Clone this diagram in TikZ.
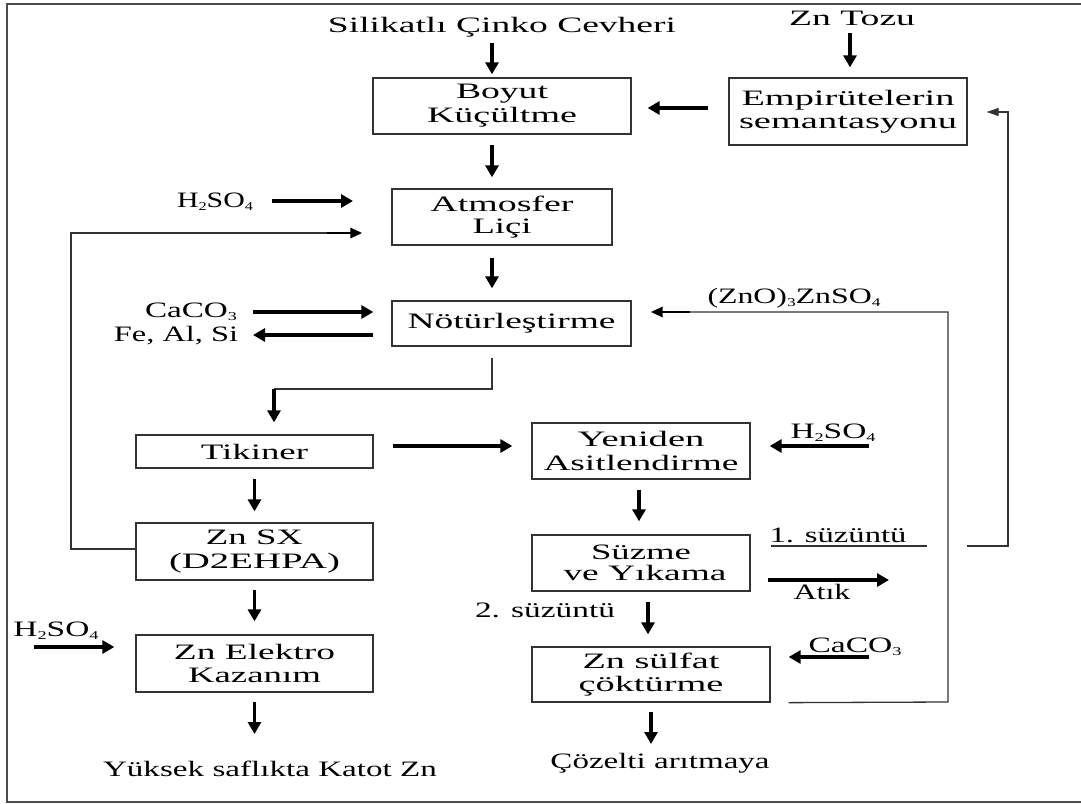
\documentclass[tikz,border=0pt]{standalone}
\usepackage{graphicx}
\usepackage{fontspec}
\setmainfont{Liberation Serif}
\usetikzlibrary{arrows.meta,calc}
\newcommand\fw[2]{\resizebox{#1pt}{\height}{#2}}
\newcommand\sbs[1]{\raisebox{-0.3ex}{\fontsize{12}{12}\selectfont #1}}
\newcommand\bxf[1]{\fontsize{22}{#1}\selectfont}
\begin{document}
\begin{tikzpicture}[x=1pt,y=-1pt,
  box/.style={draw=black!80,line width=1.3pt,align=center,inner sep=0pt},
  lbl/.style={inner sep=0pt,font=\bxf{24},anchor=base},
  flow/.style={line width=3.4pt,-{Triangle[length=12pt,width=13pt]}},
  thinln/.style={line width=1.3pt,draw=black!80},
  medarr/.style={line width=2.8pt,-{Triangle[length=12pt,width=10pt]}},
]
\useasboundingbox (0,0) rectangle (1081,803);
% frame
\draw[line width=1.3pt,black!70] (1081,4) -- (7,4) -- (7,802) -- (1081,802);

% boxes
\node[box,font=\bxf{24},minimum width=258pt,minimum height=56pt] (boyut) at (502,106) {\fw{92}{Boyut}\\\fw{150}{Küçültme}};
\node[box,font=\bxf{23},minimum width=238pt,minimum height=67pt] (empir) at (848,111.5) {\fw{213}{Empirütelerin}\\\fw{218}{semantasyonu}};
\node[box,font=\bxf{22},minimum width=220pt,minimum height=56pt] (atmos) at (502,217) {\fw{143}{Atmosfer}\\\fw{59}{Liçi}};
\node[box,font=\bxf{24},minimum width=239pt,minimum height=45pt] (notur) at (511.5,323.5) {\raisebox{1.5pt}{\fw{208}{Nötürleştirme}}};
\node[box,font=\bxf{24},minimum width=237pt,minimum height=33pt] (tikin) at (254.5,451.5) {\fw{107}{Tikiner}};
\node[box,font=\bxf{24},minimum width=218pt,minimum height=56pt] (yenid) at (641,451) {\fw{127}{Yeniden}\\\fw{195}{Asitlendirme}};
\node[box,font=\bxf{24},minimum width=237pt,minimum height=57pt] (znsx) at (254.5,551.5) {\raisebox{-3pt}{\fw{97}{Zn SX}}\\\raisebox{-3pt}{\fw{171}{(D2EHPA)}}};
\node[box,font=\bxf{21},minimum width=218pt,minimum height=56pt] (suzme) at (641,563) {\fw{100}{Süzme}\\\hspace*{8pt}\fw{163}{ve Yıkama}};
\node[box,font=\bxf{23},minimum width=237pt,minimum height=57pt] (elek) at (254.5,663.5) {\fw{161}{Zn Elektro}\\\fw{133}{Kazanım}};
\node[box,font=\bxf{23},minimum width=238pt,minimum height=55pt] (sulf) at (651,674.5) {\raisebox{-1.5pt}{\fw{137}{Zn sülfat}}\\\raisebox{-1.5pt}{\fw{145}{çöktürme}}};

% labels
\node[lbl] (silik) at (502,32) {\fw{348}{Silikatlı Çinko Cevheri}};
\node[lbl] (ztozu) at (852,25) {\fw{126}{Zn Tozu}};
\node[lbl] (h1) at (215,207) {\fw{76}{H\sbs{2}SO\sbs{4}}};
\node[lbl] (ca1) at (191,317) {\fw{92}{CaCO\sbs{3}}};
\node[lbl] (fe) at (176,341) {\fw{124}{Fe, Al, Si}};
\node[lbl] (zno) at (794,303) {\fw{173}{(ZnO)\sbs{3}ZnSO\sbs{4}}};
\node[lbl] (h2) at (833,438) {\fw{85}{H\sbs{2}SO\sbs{4}}};
\node[lbl] (s1) at (838,542) {\fw{137}{1. süzüntü}};
\node[lbl] (atik) at (822,599) {\fw{57}{Atık}};
\node[lbl] (s2) at (545,617) {\fw{140}{2. süzüntü}};
\node[lbl] (ca2) at (855,652) {\fw{93}{CaCO\sbs{3}}};
\node[lbl] (cozel) at (660,768) {\fw{219}{Çözelti arıtmaya}};
\node[lbl] (h3) at (56,636) {\fw{85}{H\sbs{2}SO\sbs{4}}};
\node[lbl] (yuksek) at (270,776) {\fw{334}{Yüksek saflıkta Katot Zn}};

% free-end coordinates
\coordinate (h1s) at (272,201);
\coordinate (h1e) at (353,201);
\coordinate (ca1s) at (253,312);
\coordinate (fee) at (253,335);
\coordinate (h2s) at (869,446);
\coordinate (atike) at (889,580);
\coordinate (ca2s) at (869,657);
\coordinate (h3s) at (34,647);
\coordinate (r1) at (71,549);
\coordinate (r2) at (71,233);
\coordinate (r3) at (327,233);
\coordinate (n1) at (492,389);
\coordinate (n2) at (274,389);
\coordinate (z1) at (948,702);
\coordinate (z2) at (948,312);
\coordinate (z3) at (690,312);
\coordinate (q1) at (927,546);
\coordinate (q2) at (967,546);
\coordinate (q3) at (1008,546);
\coordinate (q4) at (1008,112);

% main flow arrows
\draw[flow] ([xshift=-10pt,yshift=-11pt]silik.base) -- ([xshift=-10pt,yshift=3pt]boyut.north);
\draw[flow] ([xshift=-2pt,yshift=-8pt]ztozu.base) -- ([xshift=2pt,yshift=10pt]empir.north);
\draw[flow] ([xshift=-20pt,yshift=3.5pt]empir.west) -- ([xshift=16pt,yshift=-2pt]boyut.east);
\draw[flow] ([xshift=-10pt,yshift=-10pt]boyut.south) -- ([xshift=-10pt,yshift=11pt]atmos.north);
\draw[flow] ([xshift=-10pt,yshift=-12pt]atmos.south) -- ([xshift=-19.5pt,yshift=12pt]notur.north);
\draw[flow] ([xshift=19pt,yshift=5.5pt]tikin.east) -- ([xshift=-19pt,yshift=5pt]yenid.west);
\draw[flow] ([yshift=-10pt]tikin.south) -- ([yshift=11pt]znsx.north);
\draw[flow] ([xshift=-2pt,yshift=-10pt]yenid.south) -- ([xshift=-2pt,yshift=13pt]suzme.north);
\draw[flow] ([xshift=7pt,yshift=-10pt]suzme.south) -- ([xshift=-3pt,yshift=12pt]sulf.north);
\draw[flow] ([yshift=-9pt]sulf.south) -- ([xshift=-9pt,yshift=24pt]cozel.base);
\draw[flow] ([yshift=-9pt]znsx.south) -- ([yshift=13pt]elek.north);
\draw[flow] ([yshift=-9pt]elek.south) -- ([xshift=-15.5pt,yshift=42pt]yuksek.base);

% side inputs / outputs
\draw[flow] (h1s) -- (h1e);
\draw[flow] (ca1s) -- ([xshift=-18pt,yshift=11.5pt]notur.west);
\draw[flow] ([xshift=-18pt,yshift=-11.5pt]notur.west) -- (fee);
\draw[flow] (h2s) -- ([xshift=19pt,yshift=5pt]yenid.east);
\draw[flow] ([xshift=17pt,yshift=-17pt]suzme.east) -- (atike);
\draw[flow] (ca2s) -- ([xshift=18pt,yshift=17.5pt]sulf.east);
\draw[flow] (h3s) -- ([xshift=-21pt,yshift=16.5pt]elek.west);

% Notur -> Tikiner
\draw[thinln] ([xshift=-19.5pt,yshift=-11pt]notur.south) -- (n1) -- (n2);
\draw[flow] (n2) -- ([xshift=19.5pt,yshift=12pt]tikin.north);

% recycle Zn SX -> Atmosfer
\draw[thinln] ([yshift=2.5pt]znsx.west) -- (r1) -- (r2) -- (r3);
\draw[medarr] (r3) -- ([xshift=-29pt,yshift=-16pt]atmos.west);

% (ZnO)3ZnSO4 recycle
\draw[thinln] ([xshift=18pt]sulf.south east) -- (z1) -- (z2) -- (z3);
\draw[medarr] (z3) -- ([xshift=19pt,yshift=11.5pt]notur.east);

% 1. süzüntü recycle
\draw[thinln] ([xshift=20pt,yshift=17pt]suzme.east) -- (q1);
\draw[thinln,-{Triangle[length=12pt,width=8pt]}] (q2) -- (q3) -- (q4) -- ([xshift=19pt,yshift=-0.5pt]empir.east);
\end{tikzpicture}
\end{document}
